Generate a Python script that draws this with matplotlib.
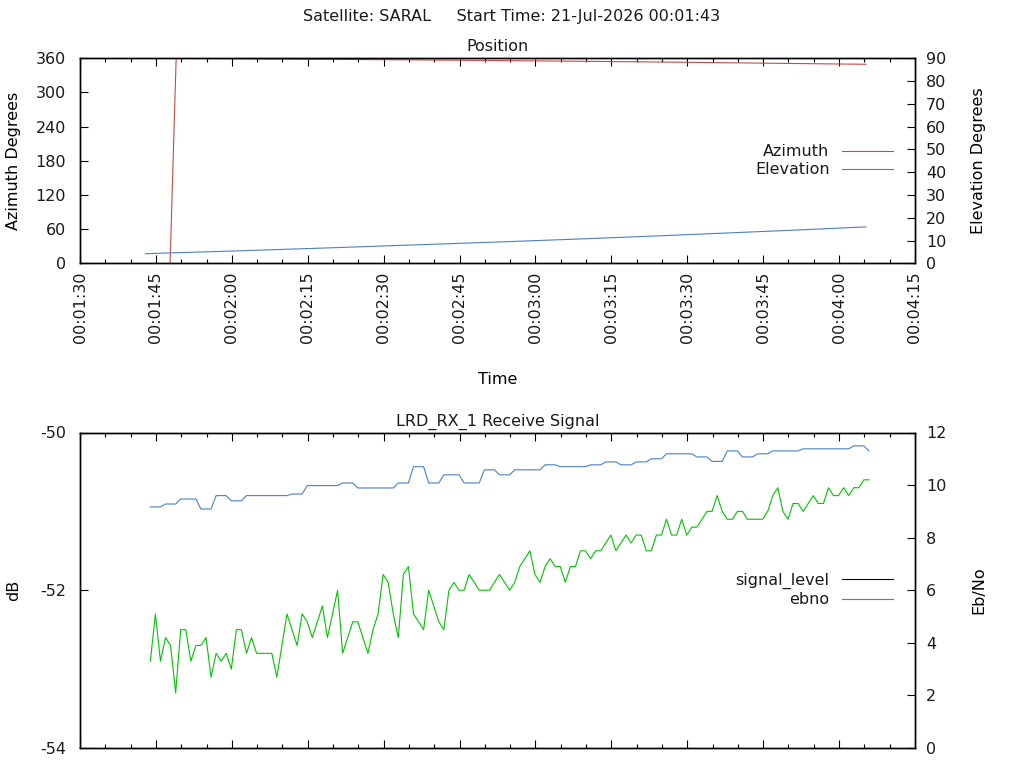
import numpy as np
import matplotlib
matplotlib.use("Agg")
import matplotlib.pyplot as plt
from matplotlib.lines import Line2D
from matplotlib.ticker import MultipleLocator, FuncFormatter, NullFormatter

# ---- data (time in seconds of the day) ----
elev_t = [102.9, 106.3, 119.4, 137.4, 154.6, 171.6, 187.6, 202.6, 216.7, 230.7, 243.7, 245.3]
elev_v = [4.2, 4.46, 5.33, 6.64, 7.96, 9.27, 10.58, 11.89, 13.20, 14.51, 15.82, 16.0]

az_t = [107.8, 109.0, 124.4, 153.6, 178.5, 199.7, 218.6, 235.8, 245.3]
az_v = [0.0, 359.9, 359.0, 357.4, 355.6, 353.9, 352.1, 350.4, 349.5]

sig_start = 103.9   # first receive sample, 1 s apart
signal_level = [
    -52.9, -52.3, -52.9, -52.6, -52.7, -53.3, -52.5, -52.5, -52.9, -52.7,
    -52.7, -52.6, -53.1, -52.8, -52.9, -52.8, -53.0, -52.5, -52.5, -52.8,
    -52.6, -52.8, -52.8, -52.8, -52.8, -53.1, -52.7, -52.3, -52.5, -52.7,
    -52.3, -52.4, -52.6, -52.4, -52.2, -52.6, -52.3, -52.0, -52.8, -52.6,
    -52.4, -52.4, -52.6, -52.8, -52.5, -52.3, -51.8, -51.9, -52.3, -52.6,
    -51.8, -51.7, -52.3, -52.4, -52.5, -52.0, -52.2, -52.4, -52.5, -52.0,
    -51.9, -52.0, -52.0, -51.8, -51.9, -52.0, -52.0, -52.0, -51.9, -51.8,
    -51.9, -52.0, -51.9, -51.7, -51.6, -51.5, -51.8, -51.9, -51.7, -51.6,
    -51.7, -51.7, -51.9, -51.7, -51.7, -51.5, -51.5, -51.6, -51.5, -51.5,
    -51.4, -51.3, -51.5, -51.4, -51.3, -51.4, -51.3, -51.3, -51.5, -51.5,
    -51.3, -51.3, -51.1, -51.3, -51.3, -51.1, -51.3, -51.2, -51.2, -51.1,
    -51.0, -51.0, -50.8, -51.0, -51.1, -51.1, -51.0, -51.0, -51.1, -51.1,
    -51.1, -51.1, -51.0, -50.8, -50.7, -51.0, -51.1, -50.9, -50.9, -51.0,
    -50.9, -50.8, -50.9, -50.9, -50.7, -50.8, -50.8, -50.7, -50.8, -50.7,
    -50.7, -50.6, -50.6,
]
ebno = [
    9.17, 9.17, 9.17, 9.28, 9.28, 9.28, 9.47, 9.47, 9.47, 9.47,
    9.09, 9.09, 9.09, 9.60, 9.60, 9.60, 9.40, 9.40, 9.40, 9.60,
    9.60, 9.60, 9.60, 9.60, 9.60, 9.60, 9.60, 9.60, 9.66, 9.66,
    9.66, 9.98, 9.98, 9.98, 9.98, 9.98, 9.98, 9.98, 10.08, 10.08,
    10.08, 9.89, 9.89, 9.89, 9.89, 9.89, 9.89, 9.89, 9.89, 10.08,
    10.08, 10.08, 10.70, 10.70, 10.70, 10.08, 10.08, 10.08, 10.39, 10.39,
    10.39, 10.39, 10.08, 10.08, 10.08, 10.08, 10.58, 10.58, 10.58, 10.39,
    10.39, 10.39, 10.58, 10.58, 10.58, 10.58, 10.58, 10.58, 10.77, 10.77,
    10.77, 10.70, 10.70, 10.70, 10.70, 10.70, 10.70, 10.77, 10.77, 10.77,
    10.88, 10.88, 10.88, 10.77, 10.77, 10.77, 10.88, 10.88, 10.88, 11.00,
    11.00, 11.00, 11.19, 11.19, 11.19, 11.19, 11.19, 11.19, 11.07, 11.07,
    11.07, 10.90, 10.90, 10.90, 11.30, 11.30, 11.30, 11.07, 11.07, 11.07,
    11.19, 11.19, 11.19, 11.30, 11.30, 11.30, 11.30, 11.30, 11.30, 11.38,
    11.38, 11.38, 11.38, 11.38, 11.38, 11.38, 11.38, 11.38, 11.38, 11.49,
    11.49, 11.49, 11.30,
]
sig_t = sig_start + np.arange(len(signal_level))

RED = "#c94848"
BLUE = "#4a80c4"
GREEN = "#00c400"
LW = 0.8
FS = 11.5

plt.rcParams["font.family"] = "DejaVu Sans"
plt.rcParams["font.size"] = FS
plt.rcParams["axes.unicode_minus"] = False
plt.rcParams["text.color"] = "#1a1a1a"
plt.rcParams["xtick.labelcolor"] = "#1a1a1a"
plt.rcParams["ytick.labelcolor"] = "#1a1a1a"


def hms(x, pos):
    x = int(round(x))
    return "%02d:%02d:%02d" % (x // 3600, (x % 3600) // 60, x % 60)


def style(a):
    a.tick_params(which="both", direction="in", width=0.8)
    a.tick_params(which="major", length=5.5)
    a.tick_params(which="minor", length=2.8)
    for s in a.spines.values():
        s.set_linewidth(1.0)


fig = plt.figure(figsize=(10.24, 7.68), dpi=100)
fig.text(0.5, 1 - 17 / 768, "Satellite: SARAL     Start Time: 21-Jul-2026 00:01:43",
         ha="center", va="center")

# ---- top: position ----
ax1 = fig.add_axes([80 / 1024, 1 - 263.3 / 768, 835 / 1024, 205 / 768])
ax1b = ax1.twinx()
ax1.plot(az_t, az_v, color=RED, lw=LW)
ax1b.plot(elev_t, elev_v, color=BLUE, lw=LW)
ax1.set_xlim(90, 255)
ax1.set_ylim(0, 360)
ax1b.set_ylim(0, 90)
ax1.xaxis.set_major_locator(MultipleLocator(15))
ax1.xaxis.set_minor_locator(MultipleLocator(5))
ax1.xaxis.set_major_formatter(FuncFormatter(hms))
ax1.yaxis.set_major_locator(MultipleLocator(60))
ax1b.yaxis.set_major_locator(MultipleLocator(10))
style(ax1)
style(ax1b)
ax1.tick_params(axis="x", which="both", top=True, bottom=True)
ax1.tick_params(axis="x", which="major", pad=6, labelrotation=90)
ax1.tick_params(axis="y", right=False, pad=10)
ax1b.tick_params(axis="y", pad=8)
ax1.set_title("Position", pad=5, fontsize=FS)
ax1.set_xlabel("Time")
ax1.xaxis.set_label_coords(0.5, -0.53)
ax1.set_ylabel("Azimuth Degrees")
ax1.yaxis.set_label_coords(-0.071, 0.5)
ax1b.set_ylabel("Elevation Degrees")
ax1b.yaxis.set_label_coords(1.067, 0.5)
h1 = [Line2D([], [], color=RED, lw=LW), Line2D([], [], color=BLUE, lw=LW)]
ax1b.legend(h1, ["Azimuth", "Elevation"], loc="center right", frameon=False,
            markerfirst=False, handlelength=3.2, handletextpad=0.8,
            borderaxespad=1.35, borderpad=0, labelspacing=0.2)

# ---- bottom: receive signal ----
ax2 = fig.add_axes([80 / 1024, 1 - 748 / 768, 835 / 1024, 315.5 / 768])
ax2b = ax2.twinx()
ax2.plot(sig_t, signal_level, color=GREEN, lw=LW)
ax2b.plot(sig_t, ebno, color=BLUE, lw=LW)
ax2.set_xlim(90, 255)
ax2.set_ylim(-54, -50)
ax2b.set_ylim(0, 12)
ax2.xaxis.set_major_locator(MultipleLocator(15))
ax2.xaxis.set_minor_locator(MultipleLocator(5))
ax2.xaxis.set_major_formatter(NullFormatter())
ax2.yaxis.set_major_locator(MultipleLocator(2))
ax2b.yaxis.set_major_locator(MultipleLocator(2))
style(ax2)
style(ax2b)
ax2.tick_params(axis="x", which="both", top=True, bottom=True)
ax2.tick_params(axis="y", right=False, pad=10)
ax2b.tick_params(axis="y", pad=8)
ax2.set_title("LRD_RX_1 Receive Signal", pad=5, fontsize=FS)
ax2.set_ylabel("dB")
ax2.yaxis.set_label_coords(-0.071, 0.5)
ax2b.set_ylabel("Eb/No")
ax2b.yaxis.set_label_coords(1.067, 0.5)
h2 = [Line2D([], [], color="black", lw=LW), Line2D([], [], color=BLUE, lw=LW)]
ax2b.legend(h2, ["signal_level", "ebno"], loc="center right", frameon=False,
            markerfirst=False, handlelength=3.2, handletextpad=0.8,
            borderaxespad=1.35, borderpad=0, labelspacing=0.2)

fig.savefig("out.png", dpi=100)
